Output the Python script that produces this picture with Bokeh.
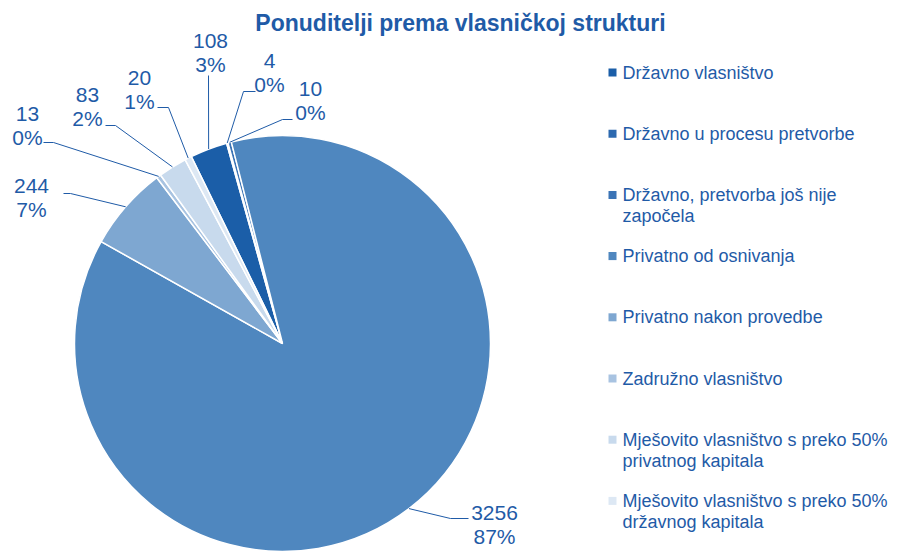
import math
import textwrap
from bokeh.plotting import figure
from bokeh.models import Range1d, ColumnDataSource
from bokeh.core.properties import value
from bokeh.embed import file_html
from bokeh.resources import INLINE

# ---------------- data ----------------
title = "Ponuditelji prema vlasničkoj strukturi"
categories = [
    "Državno vlasništvo",
    "Državno u procesu pretvorbe",
    "Državno, pretvorba još nije započela",
    "Privatno od osnivanja",
    "Privatno nakon provedbe",
    "Zadružno vlasništvo",
    "Mješovito vlasništvo s preko 50% privatnog kapitala",
    "Mješovito vlasništvo s preko 50% državnog kapitala",
]
counts = [108, 4, 10, 3256, 244, 13, 83, 20]

# ---------------- styles / layout ----------------
colors = ["#1b5ea8", "#2c69af", "#3b74b6", "#4f87bf",
          "#7ea7d1", "#a8c3e1", "#c8daed", "#dde8f4"]
TEXT = "#1f5ba7"
FONT = "Liberation Sans"
W, H = 900, 552
CX, CY, R = 282, 343, 208          # pie centre / radius (screen px)
FIRST_ANGLE = 334.0                 # degrees clockwise from 12 o'clock

# label centre (value line) in screen px
label_pos = [(210, 40), (269, 60), (310, 88), (494, 512),
             (31, 185), (27, 113), (87, 94), (139, 77)]
# leader elbow point and tail end (screen px)
leader_elbow = [(208, 75), (243, 91), (282, 119), (450, 518),
                (70, 193), (53, 142), (115, 125), (168, 107)]
leader_tail = [208, 255, 292, 468, 63, 43, 105, 157]

LEG_MX, LEG_TX, LEG_Y0, LEG_DY, LEG_LH = 612, 622, 72, 61.2, 21.5


def sy(y):
    return H - y


total = sum(counts)
starts, ends, mids = [], [], []
acc = FIRST_ANGLE
for c in counts:
    span = 360.0 * c / total
    starts.append(acc)
    ends.append(acc + span)
    mids.append(acc + span / 2)
    acc += span

p = figure(width=W, height=H, output_backend="svg", toolbar_location=None,
           x_range=Range1d(0, W), y_range=Range1d(0, H),
           min_border=0, x_axis_location=None, y_axis_location=None)
p.grid.visible = False
p.outline_line_color = None
p.background_fill_color = "white"

src = ColumnDataSource(dict(
    cat=categories, cnt=counts, color=colors,
    sa=[math.radians(90 - e) for e in ends],
    ea=[math.radians(90 - s) for s in starts],
))
p.wedge(x=CX, y=sy(CY), radius=R, start_angle="sa", end_angle="ea",
        fill_color="color", line_color="white", line_width=1.5, source=src)

# leaders
xs, ys = [], []
for m, (bx, by), tx in zip(mids, leader_elbow, leader_tail):
    a = math.radians(m)
    ex = CX + R * math.sin(a)
    ey = CY - R * math.cos(a)
    xs.append([ex, bx, tx])
    ys.append([sy(ey), sy(by), sy(by)])
p.multi_line(xs=xs, ys=ys, line_color=TEXT, line_width=1)

# data labels
vx, vy, vt, px, py, pt = [], [], [], [], [], []
for c, (lx, ly) in zip(counts, label_pos):
    vx.append(lx); vy.append(sy(ly)); vt.append(str(c))
    px.append(lx); py.append(sy(ly + 24)); pt.append(f"{round(100 * c / total)}%")
p.text(x=vx + px, y=vy + py, text=vt + pt, text_font=value(FONT),
       text_font_size="21px", text_color=TEXT, text_align="center",
       text_baseline="middle")

# title
p.text(x=[460], y=[sy(22)], text=[title], text_font=value(FONT),
       text_font_size="23px", text_font_style="bold", text_color=TEXT,
       text_align="center", text_baseline="middle")

# legend
mx, my, lx_, ly_, lt = [], [], [], [], []
for i, cat in enumerate(categories):
    y0 = LEG_Y0 + i * LEG_DY
    mx.append(LEG_MX); my.append(sy(y0))
    for j, line in enumerate(textwrap.wrap(cat, 32)):
        lx_.append(LEG_TX); ly_.append(sy(y0 + j * LEG_LH)); lt.append(line)
p.scatter(x=mx, y=my, marker="square", size=8, fill_color=colors,
          line_color=None)
p.text(x=lx_, y=ly_, text=lt, text_font=value(FONT), text_font_size="18px",
       text_color=TEXT, text_align="left", text_baseline="middle")

open("out.html", "w").write(file_html(p, INLINE))
